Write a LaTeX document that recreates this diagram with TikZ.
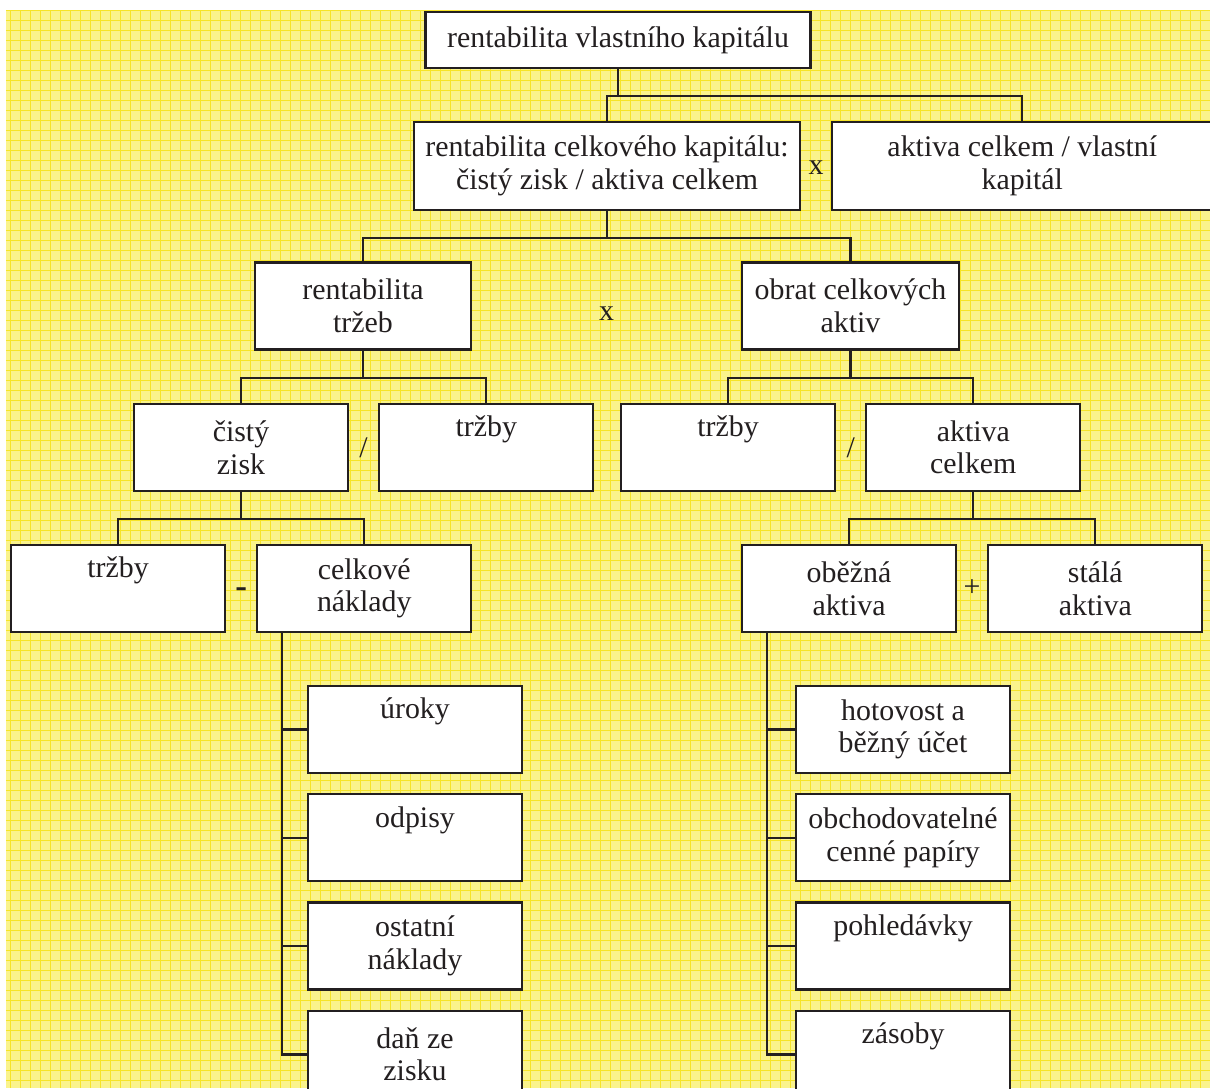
\documentclass[tikz,border=0pt]{standalone}
\usepackage{fontspec}
\setmainfont{Liberation Serif}
\usepackage{tikz}
\usetikzlibrary{positioning,calc}
\definecolor{paper}{RGB}{250,243,140}
\definecolor{gridline}{RGB}{246,228,40}
\definecolor{ink}{RGB}{35,31,32}

\begin{document}
\begin{tikzpicture}[
        node distance=0.38cm,
        box/.style={rectangle, draw=ink, line width=1.3pt, fill=white, minimum width=4.28cm, minimum height=1.74cm, align=center, text=ink, font=\fontsize{17}{18.5}\selectfont},
        op/.style={inner sep=0pt, text=ink, font=\fontsize{17}{18.5}\selectfont},
        conn/.style={draw=ink, line width=1.3pt}
    ]
    % Paper
    \useasboundingbox (0,0) rectangle (24.2,-21.76);
    \fill[paper] (0.12,-0.2) rectangle (24.2,-21.76);
    \draw[gridline, line width=0.35pt, step=0.2cm] (0.12,-21.76) grid (24.2,-0.2);

    % Root
    \node (RV) [box, minimum width=7.7cm, minimum height=1.12cm] at (12.36,-0.80) {rentabilita vlastního kapitálu};

    % Layer 1
    \node (RC) [box, minimum width=7.72cm, minimum height=1.76cm] at (12.14,-3.32) {rentabilita celkového kapitálu:\\čistý zisk / aktiva celkem};
    \node (AV) [box, minimum width=7.6cm, minimum height=1.76cm, right=0.6cm of RC] {aktiva celkem / vlastní\\kapitál};
    \node (X1) [op, yshift=-0.04cm] at ($(RC.east)!0.5!(AV.west)$) {x};

    % Layer 2
    \node (RT) [box, minimum width=4.32cm] at (7.26,-6.12) {rentabilita\\tržeb};
    \node (OC) [box, minimum width=4.34cm] at (17.01,-6.12) {obrat celkových\\aktiv};
    \node (X2) [op, yshift=-0.16cm] at ($(RT.east)!0.5!(OC.west)$) {x};

    % Layer 3
    \node (CZ) [box] at (4.82,-8.95) {čistý\\zisk};
    \node (T1) [box, right=0.58cm of CZ] {tržby\\\strut};
    \node (D1) [op] at ($(CZ.east)!0.5!(T1.west)$) {/};
    \node (T2) [box] at (14.56,-8.95) {tržby\\\strut};
    \node (AC) [box, right=0.58cm of T2] {aktiva\\celkem};
    \node (D2) [op] at ($(T2.east)!0.5!(AC.west)$) {/};

    % Layer 4
    \node (T3) [box] at (2.36,-11.77) {tržby\\\strut};
    \node (CN) [box, right=0.6cm of T3] {celkové\\náklady};
    \node (M1) [op, yshift=-0.09cm, font=\fontsize{20}{20}\selectfont\bfseries] at ($(T3.east)!0.5!(CN.west)$) {-};
    \node (OA) [box] at (16.98,-11.77) {oběžná\\aktiva};
    \node (SA) [box, right=0.6cm of OA] {stálá\\aktiva};
    \node (P1) [op] at ($(OA.east)!0.5!(SA.west)$) {+};

    % Costs
    \node (N1) [box] at (8.30,-14.59) {úroky\\\strut};
    \node (N2) [box, below=of N1] {odpisy\\\strut};
    \node (N3) [box, below=of N2] {ostatní\\náklady};
    \node (N4) [box, below=of N3] {daň ze\\zisku};

    % Current assets
    \node (C1) [box] at (18.06,-14.59) {hotovost a\\běžný účet};
    \node (C2) [box, below=of C1] {obchodovatelné\\cenné papíry};
    \node (C3) [box, below=of C2] {pohledávky\\\strut};
    \node (C4) [box, below=of C3] {zásoby\\\strut};

    % Tree edges
    \draw[conn] (RV.south) -- ++(0,-0.54) coordinate (k1);
    \draw[conn] (RC.north) |- (k1) -| (AV.north);
    \draw[conn] (RC.south) -- ++(0,-0.54) coordinate (k2);
    \draw[conn] (RT.north) |- (k2) -| (OC.north);
    \draw[conn] (RT.south) -- ++(0,-0.54) coordinate (k3);
    \draw[conn] (CZ.north) |- (k3) -| (T1.north);
    \draw[conn] (OC.south) -- ++(0,-0.54) coordinate (k4);
    \draw[conn] (T2.north) |- (k4) -| (AC.north);
    \draw[conn] (CZ.south) -- ++(0,-0.54) coordinate (k5);
    \draw[conn] (T3.north) |- (k5) -| (CN.north);
    \draw[conn] (AC.south) -- ++(0,-0.54) coordinate (k6);
    \draw[conn] (OA.north) |- (k6) -| (SA.north);

    % Side lists
    \coordinate (sL) at ([xshift=0.52cm]CN.south west);
    \coordinate (sR) at ([xshift=0.52cm]OA.south west);
    \draw[conn] (sL) |- (N4.west);
    \draw[conn] (sR) |- (C4.west);
    \foreach \n in {N1,N2,N3} \draw[conn] (\n.west) -- (\n.west -| sL);
    \foreach \n in {C1,C2,C3} \draw[conn] (\n.west) -- (\n.west -| sR);

\end{tikzpicture}
\end{document}
